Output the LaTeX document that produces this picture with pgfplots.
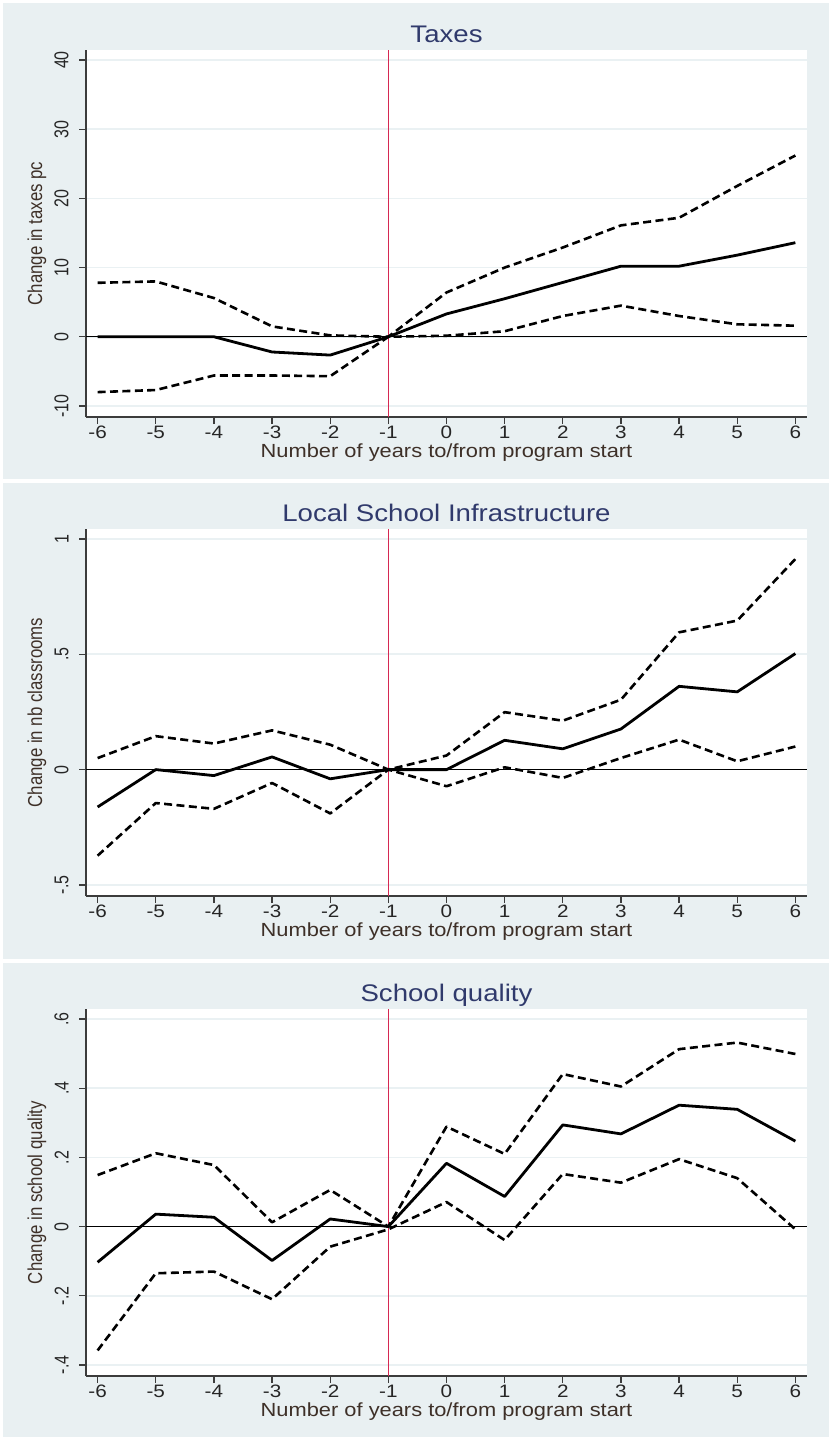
\documentclass[border=0pt]{standalone}
\usepackage{fontspec}
\setmainfont{Liberation Sans}[FakeStretch=1.15]
\newfontfamily\rotfont{Liberation Sans}
\usepackage{pgfplots}
\usepackage{pgfplotstable}
\pgfplotsset{compat=1.18}
\definecolor{bgc}{RGB}{233,240,242}
\definecolor{gridc}{RGB}{234,241,243}
\definecolor{titc}{RGB}{48,58,108}
\definecolor{labc}{RGB}{62,48,40}
\definecolor{redl}{RGB}{214,40,82}
\definecolor{axc}{RGB}{60,60,60}

\pgfplotstableread{
x est up lo
-6 0 7.8 -8.0
-5 0 8.0 -7.7
-4 0 5.6 -5.6
-3 -2.2 1.5 -5.6
-2 -2.65 0.2 -5.7
-1 0 0 0
0 3.3 6.4 0.15
1 5.5 10.0 0.8
2 7.85 12.9 3.0
3 10.2 16.1 4.5
4 10.2 17.2 3.0
5 11.8 21.8 1.8
6 13.6 26.2 1.6
}\taxes

\pgfplotstableread{
x est up lo
-6 -0.162 0.05 -0.373
-5 0 0.145 -0.145
-4 -0.026 0.113 -0.17
-3 0.055 0.17 -0.058
-2 -0.04 0.108 -0.19
-1 0 0 0
0 0 0.061 -0.072
1 0.127 0.249 0.01
2 0.09 0.212 -0.036
3 0.176 0.303 0.05
4 0.361 0.595 0.13
5 0.337 0.646 0.036
6 0.503 0.913 0.10
}\infra

\pgfplotstableread{
x est up lo
-6 -0.103 0.149 -0.358
-5 0.036 0.212 -0.135
-4 0.027 0.178 -0.13
-3 -0.098 0.0125 -0.21
-2 0.022 0.106 -0.058
-1 0 0 -0.008
0 0.183 0.289 0.071
1 0.087 0.21 -0.039
2 0.294 0.441 0.152
3 0.268 0.405 0.127
4 0.351 0.513 0.195
5 0.339 0.532 0.14
6 0.247 0.499 -0.008
}\quality

\pgfplotsset{
  stata/.style={
    scale only axis, width=360.5pt, height=183.5pt,
    anchor=south west,
    xmin=-6.2, xmax=6.2,
    axis lines=left, axis line style={-, draw=axc, line width=0.7pt},
    axis background/.style={fill=white},
    tick align=outside, major tick length=3.5pt,
    tick style={draw=axc, line width=0.6pt},
    xtick={-6,-5,-4,-3,-2,-1,0,1,2,3,4,5,6},
    xticklabels={-6,-5,-4,-3,-2,-1,0,1,2,3,4,5,6},
    xticklabel style={font=\fontsize{9}{10}\selectfont, anchor=base, inner sep=0pt, text=black!85},
    xticklabel shift=7pt,
    yticklabel style={font=\rotfont\fontsize{8}{10}\selectfont, rotate=90, yscale=1.25, anchor=south, inner sep=0pt, text=black!85},
    yticklabel shift=5pt,
    ymajorgrids, grid style={draw=gridc, line width=0.8pt},
    title style={font=\fontsize{12}{14}\selectfont, text=titc, at={(axis description cs:0.5,1)}, anchor=base, yshift=-2.3pt},
    xlabel={Number of years to/from program start},
    xlabel style={font=\fontsize{9.5}{11}\selectfont, text=labc, at={(axis description cs:0.5,0)}, anchor=base, yshift=-20pt},
    ylabel style={font=\rotfont\fontsize{8.4}{10}\selectfont, text=labc, at={(axis description cs:-0.068,0.5)}, anchor=center, yscale=1.2},
    clip=true,
  },
  est/.style={black, line width=1.4pt, line join=round},
  ci/.style={black, line width=1.3pt, dash pattern=on 4pt off 2.2pt, line join=round},
  zl/.style={black, line width=0.5pt},
  rl/.style={redl, line width=0.8pt},
}

\begin{document}
\begin{tikzpicture}
\useasboundingbox (0,0) rectangle (414.5pt,-718.5pt);
\fill[white] (0,0) rectangle (414.5pt,-718.5pt);
\fill[bgc] (1.5pt,-1.5pt) rectangle (414.5pt,-239.5pt);
\fill[bgc] (1.5pt,-241.5pt) rectangle (414.5pt,-479.5pt);
\fill[bgc] (1.5pt,-481.5pt) rectangle (414.5pt,-718.5pt);

% Panel 1
\begin{axis}[stata, at={(43pt,-208.5pt)},
  title={Taxes}, ylabel={Change in taxes pc},
  ymin=-11.6, ymax=41.45,
  ytick={-10,0,10,20,30,40}, yticklabels={-10,0,10,20,30,40}]
\addplot[zl] coordinates {(-6.2,0) (6.2,0)};
\addplot[rl] coordinates {(-1,-11.6) (-1,41.45)};
\addplot[ci] table[x=x,y=up] {\taxes};
\addplot[ci] table[x=x,y=lo] {\taxes};
\addplot[est] table[x=x,y=est] {\taxes};
\end{axis}

% Panel 2
\begin{axis}[stata, at={(43pt,-448pt)},
  title={Local School Infrastructure}, ylabel={Change in nb classrooms},
  ymin=-0.548, ymax=1.043,
  ytick={-0.5,0,0.5,1}, yticklabels={-.5,0,.5,1}]
\addplot[zl] coordinates {(-6.2,0) (6.2,0)};
\addplot[rl] coordinates {(-1,-0.548) (-1,1.043)};
\addplot[ci] table[x=x,y=up] {\infra};
\addplot[ci] table[x=x,y=lo] {\infra};
\addplot[est] table[x=x,y=est] {\infra};
\end{axis}

% Panel 3
\begin{axis}[stata, at={(43pt,-688pt)},
  title={School quality}, ylabel={Change in school quality},
  ymin=-0.432, ymax=0.629,
  ytick={-0.4,-0.2,0,0.2,0.4,0.6}, yticklabels={-.4,-.2,0,.2,.4,.6}]
\addplot[zl] coordinates {(-6.2,0) (6.2,0)};
\addplot[rl] coordinates {(-1,-0.432) (-1,0.629)};
\addplot[ci] table[x=x,y=up] {\quality};
\addplot[ci] table[x=x,y=lo] {\quality};
\addplot[est] table[x=x,y=est] {\quality};
\end{axis}
\end{tikzpicture}
\end{document}
